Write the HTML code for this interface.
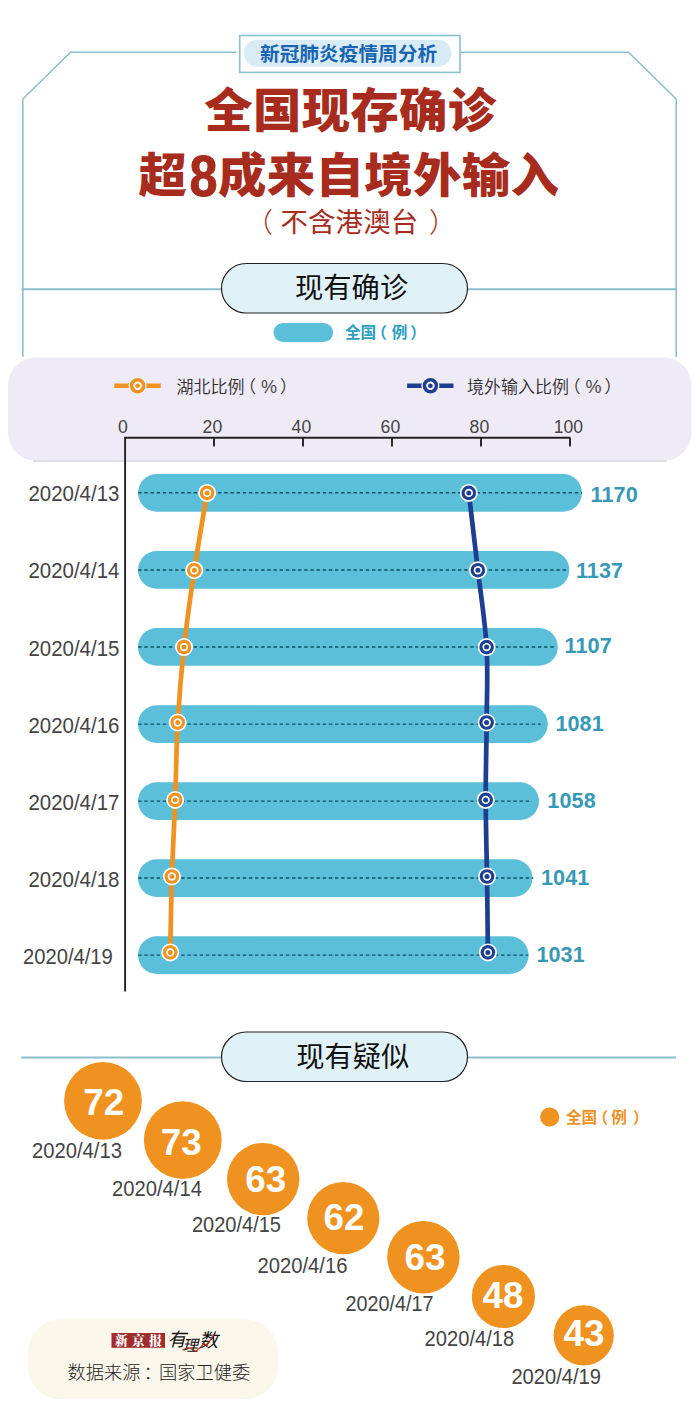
<!DOCTYPE html>
<html lang="zh-CN">
<head>
<meta charset="utf-8">
<title>新冠肺炎疫情周分析</title>
<style>
html,body{margin:0;padding:0;background:#fff;}
body{width:700px;height:1425px;overflow:hidden;position:relative;}
svg{display:block;position:absolute;left:0;top:0;}
text{font-family:"Liberation Sans", "Noto Sans CJK SC", sans-serif;}
.serif{font-family:"Liberation Serif", "Noto Serif CJK SC", serif;}
</style>
</head>
<body>
<svg width="700" height="1425" viewBox="0 0 700 1425">

<g fill="none" stroke="#8dbfcd" stroke-width="1.6">
<path d="M236.5 52.3 H70.5 L22.8 99 V357"/>
<path d="M461 52.3 H628.5 L676.2 99 V357"/>
<path d="M21.4 289.3 H221" stroke-width="2"/><path d="M468 289.3 H677" stroke-width="2"/>
<path d="M21 1057.4 H221" stroke-width="2"/><path d="M468 1057.4 H676" stroke-width="2"/>
</g>
<rect x="239.7" y="35.5" width="220.3" height="36.9" fill="#fff" stroke="#8dbfcd" stroke-width="1.6"/>
<rect x="243.8" y="39.8" width="207.6" height="26.8" rx="13.4" fill="#d9ebf5"/>
<text x="348.6" y="61.3" font-size="19.7" font-weight="700" fill="#1a65b1" text-anchor="middle">新冠肺炎疫情周分析</text>
<text transform="translate(350.4 127) scale(1.03 1)" font-size="47" font-weight="900" fill="#a72c1d" text-anchor="middle" letter-spacing="0.3">全国现存确诊</text>
<g font-weight="900" fill="#a72c1d"><text transform="translate(138.6 191.8) scale(1.03 1)" font-size="47">超</text><text transform="translate(203.5 195.7) scale(0.875 1)" font-size="57.5" stroke="#a72c1d" stroke-width="1" text-anchor="middle">8</text><text transform="translate(218.0 191.8) scale(1.031 1)" font-size="47" letter-spacing="0.3">成来自境外输入</text></g>
<g font-size="27.4" fill="#a72c1d"><text x="245.6" y="232.4" font-weight="300">（</text><text x="349.4" y="232.4" text-anchor="middle" letter-spacing="0.2">不含港澳台</text><text x="429" y="232.4" font-weight="300">）</text></g>
<rect x="221.5" y="263.5" width="246" height="49.5" rx="24.75" fill="#e0f1f8" stroke="#222" stroke-width="1.2"/>
<text x="351.6" y="297.6" font-size="28.3" font-weight="400" fill="#111" text-anchor="middle">现有确诊</text>
<rect x="273.5" y="323" width="59.6" height="19" rx="9.5" fill="#5bbfd9"/>
<text x="345" y="338.4" font-size="15.6" font-weight="700" fill="#2b9fc2">全国<tspan dx="-5">（</tspan><tspan dx="5">例</tspan><tspan dx="2.9">）</tspan></text>
<rect x="8" y="357.4" width="683.6" height="103.4" rx="28" fill="#efebf6"/>
<path d="M33 461.1 H667" stroke="#c4c1cb" stroke-width="0.9" fill="none"/>
<path d="M114.3 385.8 H160.7" stroke="#f0921f" stroke-width="4.5" fill="none"/><circle cx="137.6" cy="385.8" r="9.1" fill="#f4f0f9"/><circle cx="137.6" cy="385.8" r="7.7" fill="#f0921f"/><circle cx="137.6" cy="385.8" r="4.2" fill="#fff"/><circle cx="137.6" cy="385.8" r="2.4" fill="#f0921f"/>
<text x="176.5" y="392.5" font-size="17" font-weight="350" fill="#2e2e2e">湖北比例<tspan dx="-5.5">（</tspan><tspan dx="5" font-size="18" fill="#4a4a4a">%</tspan><tspan dx="3">）</tspan></text>
<path d="M407.1 385.8 H453.5" stroke="#1e3e90" stroke-width="4.5" fill="none"/><circle cx="430.4" cy="385.8" r="9.1" fill="#f4f0f9"/><circle cx="430.4" cy="385.8" r="7.7" fill="#1e3e90"/><circle cx="430.4" cy="385.8" r="4.2" fill="#fff"/><circle cx="430.4" cy="385.8" r="2.4" fill="#1e3e90"/>
<text x="467" y="392.5" font-size="17" font-weight="350" fill="#2e2e2e">境外输入比例<tspan dx="-5.5">（</tspan><tspan dx="5" font-size="18" fill="#4a4a4a">%</tspan><tspan dx="3">）</tspan></text>
<g fill="none" stroke="#222" stroke-width="1.9">
<path d="M124.2 437.8 H570.2"/><path d="M125.1 436.9 V991.5"/>
<path d="M214.0 437.5 V446.5"/>
<path d="M303.0 437.5 V446.5"/>
<path d="M392.0 437.5 V446.5"/>
<path d="M481.0 437.5 V446.5"/>
<path d="M570.0 437.5 V446.5"/>
</g>
<text x="117.9" y="433" font-size="18.4" fill="#444" textLength="9.8" lengthAdjust="spacingAndGlyphs">0</text>
<text x="202.6" y="433" font-size="18.4" fill="#444" textLength="19.6" lengthAdjust="spacingAndGlyphs">20</text>
<text x="291.6" y="433" font-size="18.4" fill="#444" textLength="19.6" lengthAdjust="spacingAndGlyphs">40</text>
<text x="380.6" y="433" font-size="18.4" fill="#444" textLength="19.6" lengthAdjust="spacingAndGlyphs">60</text>
<text x="469.6" y="433" font-size="18.4" fill="#444" textLength="19.6" lengthAdjust="spacingAndGlyphs">80</text>
<text x="553.8" y="433" font-size="18.4" fill="#444" textLength="29.2" lengthAdjust="spacingAndGlyphs">100</text>
<rect x="138.0" y="474.0" width="444.0" height="37.7" rx="18.85" fill="#5bbfd9"/>
<path d="M138.2 492.8 H582.0" stroke="#0d5068" stroke-width="1.45" stroke-dasharray="3.4 2.75" fill="none"/>
<text x="590.6" y="501.9" font-size="21.6" font-weight="700" fill="#3799b6" letter-spacing="0.1">1170</text>
<text x="28.4" y="501.0" font-size="21.6" fill="#444" textLength="91.0" lengthAdjust="spacingAndGlyphs">2020/4/13</text>
<rect x="138.0" y="551.1" width="431.3" height="37.7" rx="18.85" fill="#5bbfd9"/>
<path d="M138.2 569.9 H567.0" stroke="#0d5068" stroke-width="1.45" stroke-dasharray="3.4 2.75" fill="none"/>
<text x="575.9" y="578.2" font-size="21.6" font-weight="700" fill="#3799b6" letter-spacing="0.1">1137</text>
<text x="28.4" y="578.3" font-size="21.6" fill="#444" textLength="91.0" lengthAdjust="spacingAndGlyphs">2020/4/14</text>
<rect x="138.0" y="628.1" width="419.8" height="37.7" rx="18.85" fill="#5bbfd9"/>
<path d="M138.2 646.9 H556.3" stroke="#0d5068" stroke-width="1.45" stroke-dasharray="3.4 2.75" fill="none"/>
<text x="564.5" y="652.6" font-size="21.6" font-weight="700" fill="#3799b6" letter-spacing="0.1">1107</text>
<text x="28.4" y="655.5" font-size="21.6" fill="#444" textLength="91.0" lengthAdjust="spacingAndGlyphs">2020/4/15</text>
<rect x="138.0" y="705.3" width="409.8" height="37.7" rx="18.85" fill="#5bbfd9"/>
<path d="M138.2 724.1 H540.6" stroke="#0d5068" stroke-width="1.45" stroke-dasharray="3.4 2.75" fill="none"/>
<text x="555.4" y="731.4" font-size="21.6" font-weight="700" fill="#3799b6" letter-spacing="0.1">1081</text>
<text x="28.4" y="733.1" font-size="21.6" fill="#444" textLength="91.0" lengthAdjust="spacingAndGlyphs">2020/4/16</text>
<rect x="138.0" y="782.3" width="401.0" height="37.7" rx="18.85" fill="#5bbfd9"/>
<path d="M138.2 801.1 H532.0" stroke="#0d5068" stroke-width="1.45" stroke-dasharray="3.4 2.75" fill="none"/>
<text x="547.3" y="808.0" font-size="21.6" font-weight="700" fill="#3799b6" letter-spacing="0.1">1058</text>
<text x="28.4" y="810.1" font-size="21.6" fill="#444" textLength="91.0" lengthAdjust="spacingAndGlyphs">2020/4/17</text>
<rect x="138.0" y="859.2" width="394.5" height="37.7" rx="18.85" fill="#5bbfd9"/>
<path d="M138.2 878.0 H533.4" stroke="#0d5068" stroke-width="1.45" stroke-dasharray="3.4 2.75" fill="none"/>
<text x="541.0" y="885.1" font-size="21.6" font-weight="700" fill="#3799b6" letter-spacing="0.1">1041</text>
<text x="28.4" y="887.0" font-size="21.6" fill="#444" textLength="91.0" lengthAdjust="spacingAndGlyphs">2020/4/18</text>
<rect x="138.0" y="936.3" width="390.6" height="37.7" rx="18.85" fill="#5bbfd9"/>
<path d="M138.2 955.1 H528.4" stroke="#0d5068" stroke-width="1.45" stroke-dasharray="3.4 2.75" fill="none"/>
<text x="536.4" y="962.2" font-size="21.6" font-weight="700" fill="#3799b6" letter-spacing="0.1">1031</text>
<text x="23.0" y="964.1" font-size="21.6" fill="#444" textLength="89.8" lengthAdjust="spacingAndGlyphs">2020/4/19</text>
<path d="M207.1 492.9 C205.0 505.8 198.2 544.5 194.3 570.2 C190.5 595.9 186.8 621.7 184.0 647.1 C181.2 672.5 179.2 697.0 177.7 722.5 C176.2 748.0 176.2 774.2 175.2 799.9 C174.2 825.6 172.7 851.1 171.9 876.5 C171.1 901.9 170.5 939.8 170.2 952.4" fill="none" stroke="#f0921f" stroke-width="4.7"/>
<path d="M468.8 492.9 C470.3 505.8 474.9 544.5 477.9 570.2 C480.9 595.9 485.2 621.7 486.6 647.1 C488.1 672.5 486.8 697.0 486.6 722.5 C486.5 748.0 485.6 774.2 485.7 799.9 C485.8 825.6 486.6 851.1 487.0 876.5 C487.4 901.9 487.8 939.8 487.9 952.4" fill="none" stroke="#1e3e90" stroke-width="4.7"/>
<circle cx="207.1" cy="492.9" r="9.0" fill="#fff"/><circle cx="207.1" cy="492.9" r="7.3" fill="#f0921f"/><circle cx="207.1" cy="492.9" r="4.2" fill="#fff"/><circle cx="207.1" cy="492.9" r="2.5" fill="#f0921f"/>
<circle cx="468.8" cy="492.9" r="9.0" fill="#fff"/><circle cx="468.8" cy="492.9" r="7.3" fill="#1e3e90"/><circle cx="468.8" cy="492.9" r="4.2" fill="#fff"/><circle cx="468.8" cy="492.9" r="2.5" fill="#1e3e90"/>
<circle cx="194.3" cy="570.2" r="9.0" fill="#fff"/><circle cx="194.3" cy="570.2" r="7.3" fill="#f0921f"/><circle cx="194.3" cy="570.2" r="4.2" fill="#fff"/><circle cx="194.3" cy="570.2" r="2.5" fill="#f0921f"/>
<circle cx="477.9" cy="570.2" r="9.0" fill="#fff"/><circle cx="477.9" cy="570.2" r="7.3" fill="#1e3e90"/><circle cx="477.9" cy="570.2" r="4.2" fill="#fff"/><circle cx="477.9" cy="570.2" r="2.5" fill="#1e3e90"/>
<circle cx="184.0" cy="647.1" r="9.0" fill="#fff"/><circle cx="184.0" cy="647.1" r="7.3" fill="#f0921f"/><circle cx="184.0" cy="647.1" r="4.2" fill="#fff"/><circle cx="184.0" cy="647.1" r="2.5" fill="#f0921f"/>
<circle cx="486.6" cy="647.1" r="9.0" fill="#fff"/><circle cx="486.6" cy="647.1" r="7.3" fill="#1e3e90"/><circle cx="486.6" cy="647.1" r="4.2" fill="#fff"/><circle cx="486.6" cy="647.1" r="2.5" fill="#1e3e90"/>
<circle cx="177.7" cy="722.5" r="9.0" fill="#fff"/><circle cx="177.7" cy="722.5" r="7.3" fill="#f0921f"/><circle cx="177.7" cy="722.5" r="4.2" fill="#fff"/><circle cx="177.7" cy="722.5" r="2.5" fill="#f0921f"/>
<circle cx="486.6" cy="722.5" r="9.0" fill="#fff"/><circle cx="486.6" cy="722.5" r="7.3" fill="#1e3e90"/><circle cx="486.6" cy="722.5" r="4.2" fill="#fff"/><circle cx="486.6" cy="722.5" r="2.5" fill="#1e3e90"/>
<circle cx="175.2" cy="799.9" r="9.0" fill="#fff"/><circle cx="175.2" cy="799.9" r="7.3" fill="#f0921f"/><circle cx="175.2" cy="799.9" r="4.2" fill="#fff"/><circle cx="175.2" cy="799.9" r="2.5" fill="#f0921f"/>
<circle cx="485.7" cy="799.9" r="9.0" fill="#fff"/><circle cx="485.7" cy="799.9" r="7.3" fill="#1e3e90"/><circle cx="485.7" cy="799.9" r="4.2" fill="#fff"/><circle cx="485.7" cy="799.9" r="2.5" fill="#1e3e90"/>
<circle cx="171.9" cy="876.5" r="9.0" fill="#fff"/><circle cx="171.9" cy="876.5" r="7.3" fill="#f0921f"/><circle cx="171.9" cy="876.5" r="4.2" fill="#fff"/><circle cx="171.9" cy="876.5" r="2.5" fill="#f0921f"/>
<circle cx="487.0" cy="876.5" r="9.0" fill="#fff"/><circle cx="487.0" cy="876.5" r="7.3" fill="#1e3e90"/><circle cx="487.0" cy="876.5" r="4.2" fill="#fff"/><circle cx="487.0" cy="876.5" r="2.5" fill="#1e3e90"/>
<circle cx="170.2" cy="952.4" r="9.0" fill="#fff"/><circle cx="170.2" cy="952.4" r="7.3" fill="#f0921f"/><circle cx="170.2" cy="952.4" r="4.2" fill="#fff"/><circle cx="170.2" cy="952.4" r="2.5" fill="#f0921f"/>
<circle cx="487.9" cy="952.4" r="9.0" fill="#fff"/><circle cx="487.9" cy="952.4" r="7.3" fill="#1e3e90"/><circle cx="487.9" cy="952.4" r="4.2" fill="#fff"/><circle cx="487.9" cy="952.4" r="2.5" fill="#1e3e90"/>
<rect x="221.5" y="1032" width="246" height="49.5" rx="24.75" fill="#e0f1f8" stroke="#222" stroke-width="1.2"/>
<text x="352.8" y="1067.1" font-size="28.3" font-weight="400" fill="#111" text-anchor="middle">现有疑似</text>
<circle cx="549.7" cy="1117" r="9.6" fill="#f0921f"/>
<text x="566" y="1122.5" font-size="15.6" font-weight="700" fill="#f0921f">全国<tspan dx="-4.7">（</tspan><tspan dx="3.1">例</tspan><tspan dx="6.2">）</tspan></text>
<circle cx="103.0" cy="1100.9" r="38.9" fill="#f0921f"/>
<text x="83.3" y="1114.9" font-size="37.5" font-weight="700" fill="#fff" textLength="41" lengthAdjust="spacingAndGlyphs">72</text>
<text x="32.0" y="1158.0" font-size="21.6" fill="#444" textLength="90.0" lengthAdjust="spacingAndGlyphs">2020/4/13</text>
<circle cx="182.8" cy="1140.1" r="38.9" fill="#f0921f"/>
<text x="160.7" y="1154.8" font-size="37.5" font-weight="700" fill="#fff" textLength="41" lengthAdjust="spacingAndGlyphs">73</text>
<text x="112.0" y="1196.0" font-size="21.6" fill="#444" textLength="90.0" lengthAdjust="spacingAndGlyphs">2020/4/14</text>
<circle cx="263.2" cy="1179.1" r="36.2" fill="#f0921f"/>
<text x="245.3" y="1191.9" font-size="37.5" font-weight="700" fill="#fff" textLength="41" lengthAdjust="spacingAndGlyphs">63</text>
<text x="192.0" y="1232.0" font-size="21.6" fill="#444" textLength="89.0" lengthAdjust="spacingAndGlyphs">2020/4/15</text>
<circle cx="343.3" cy="1218.2" r="36.1" fill="#f0921f"/>
<text x="323.6" y="1229.7" font-size="37.5" font-weight="700" fill="#fff" textLength="41" lengthAdjust="spacingAndGlyphs">62</text>
<text x="257.4" y="1272.6" font-size="21.6" fill="#444" textLength="90.0" lengthAdjust="spacingAndGlyphs">2020/4/16</text>
<circle cx="423.4" cy="1257.2" r="36.2" fill="#f0921f"/>
<text x="404.6" y="1270.1" font-size="37.5" font-weight="700" fill="#fff" textLength="41" lengthAdjust="spacingAndGlyphs">63</text>
<text x="345.5" y="1311.2" font-size="21.6" fill="#444" textLength="88.0" lengthAdjust="spacingAndGlyphs">2020/4/17</text>
<circle cx="503.4" cy="1296.5" r="31.6" fill="#f0921f"/>
<text x="482.5" y="1307.6" font-size="37.5" font-weight="700" fill="#fff" textLength="41" lengthAdjust="spacingAndGlyphs">48</text>
<text x="424.6" y="1345.6" font-size="21.6" fill="#444" textLength="89.6" lengthAdjust="spacingAndGlyphs">2020/4/18</text>
<circle cx="583.7" cy="1335.4" r="30.1" fill="#f0921f"/>
<text x="563.4" y="1346.3" font-size="37.5" font-weight="700" fill="#fff" textLength="41" lengthAdjust="spacingAndGlyphs">43</text>
<text x="511.4" y="1383.6" font-size="21.6" fill="#444" textLength="89.6" lengthAdjust="spacingAndGlyphs">2020/4/19</text>
<rect x="28" y="1319.3" width="250" height="80" rx="33" fill="#fbf8eb"/>
<rect x="111.5" y="1333" width="53.5" height="14.8" fill="#a02c2c"/>
<text class="serif" x="115.1" y="1345.1" font-size="12.8" font-weight="900" fill="#fff" letter-spacing="4.2">新京报</text>
<g font-style="italic" font-weight="400" fill="#111"><text x="167.5" y="1346" font-size="18.5">有</text><text x="182.5" y="1351" font-size="15.5">理</text><text x="199" y="1347" font-size="19">数</text></g>
<path d="M182.3 1349.9 L188 1347.5 L196.2 1351.2 L204.1 1343.8 L207 1345.5 L214 1334" fill="none" stroke="#c5281f" stroke-width="1.1"/>
<text x="158.9" y="1378.6" font-size="18.3" font-weight="300" fill="#222" text-anchor="middle">数据来源<tspan dx="3">：</tspan><tspan dx="-3">国家卫健委</tspan></text>
</svg>
</body>
</html>
